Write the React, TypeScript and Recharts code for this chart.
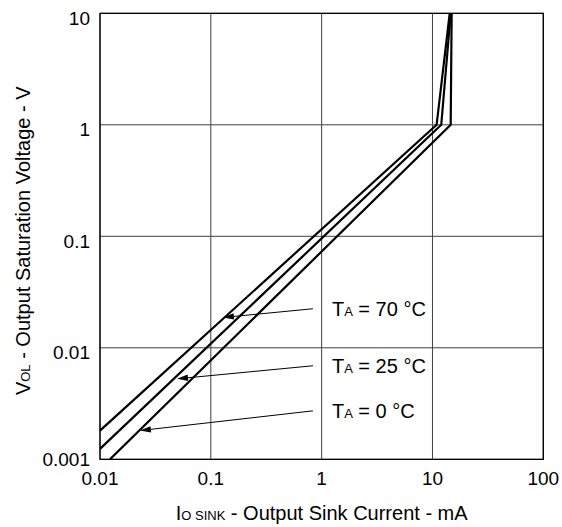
import { LineChart, Line, XAxis, YAxis, CartesianGrid, ReferenceLine, ReferenceArea } from 'recharts';

const FONT = '"Liberation Sans", Arial, sans-serif';

const xTicks = [0.01, 0.1, 1, 10, 100];
const yTicks = [0.001, 0.01, 0.1, 1, 10];

const t70 = [
  { x: 0.01, y: 0.00181 },
  { x: 10.9, y: 1 },
  { x: 14.3, y: 10 },
];
const t25 = [
  { x: 0.01, y: 0.00124 },
  { x: 12.0, y: 1 },
  { x: 14.6, y: 10 },
];
const t0 = [
  { x: 0.0123, y: 0.001 },
  { x: 14.6, y: 1 },
  { x: 14.9, y: 10 },
];

const labelTemps = ['70', '25', '0'];
const leaderStartX = 0.834;
const leaderStartY = [0.0224, 0.0069, 0.00272];
const leaderTipX = [0.1286, 0.0495, 0.0229];
const leaderTipY = [0.0187, 0.00527, 0.00181];

const fmt = (v: number) => String(v);

function YTick({ x, y, payload }: any) {
  const dy = payload.value === 0.001 ? 6.3 : 11.3;
  return (
    <text x={x} y={y} dy={dy} textAnchor="end" fontSize={19} fontFamily={FONT} fill="#000">
      {fmt(payload.value)}
    </text>
  );
}

function Leader(temp: string) {
  return ({ x1, y1, x2, y2 }: any) => {
    const ang = Math.atan2(y2 - y1, x2 - x1);
    const len = 11;
    const w = 3.2;
    const bx = x2 - len * Math.cos(ang);
    const by = y2 - len * Math.sin(ang);
    const px = -Math.sin(ang) * w;
    const py = Math.cos(ang) * w;
    return (
      <g>
        <line x1={x1} y1={y1} x2={bx} y2={by} stroke="#000" strokeWidth={1} />
        <polygon points={`${x2},${y2} ${bx + px},${by + py} ${bx - px},${by - py}`} fill="#000" />
        <text x={x1 + 19} y={y1 + 7} fontSize={20} fontFamily={FONT} fill="#000">
          <tspan>T</tspan>
          <tspan fontSize={13}>A</tspan>
          <tspan>{` = ${temp} °C`}</tspan>
        </text>
      </g>
    );
  };
}

function YTitle({ viewBox }: any) {
  const cx = viewBox.x + 0.5;
  const cy = viewBox.y + viewBox.height / 2 + 4.5;
  return (
    <text x={cx} y={cy} transform={`rotate(-90, ${cx}, ${cy})`} textAnchor="middle" fontSize={20} fontFamily={FONT} fill="#000">
      <tspan>V</tspan>
      <tspan fontSize={13}>OL</tspan>
      <tspan> - Output Saturation Voltage - V</tspan>
    </text>
  );
}

function XTitle({ viewBox }: any) {
  const cx = viewBox.x + viewBox.width / 2;
  return (
    <text x={cx} y={viewBox.y + 60.7} textAnchor="middle" fontSize={20} fontFamily={FONT} fill="#000">
      <tspan>I</tspan>
      <tspan fontSize={13}>O SINK</tspan>
      <tspan> - Output Sink Current - mA</tspan>
    </text>
  );
}

const series = [t70, t25, t0];

export default function App() {
  return (
    <div style={{ position: 'fixed', left: 0, top: 0, background: '#fff' }}>
      <LineChart width={562} height={527} margin={{ top: 13.3, right: 18.7, left: 30, bottom: 27.7 }}>
        <CartesianGrid stroke="#404040" strokeWidth={1} />
        <XAxis
          type="number"
          dataKey="x"
          scale="log"
          domain={[0.01, 100]}
          ticks={xTicks}
          allowDataOverflow
          height={40}
          tickLine={false}
          axisLine={false}
          tickSize={0}
          tickMargin={12.4}
          tickFormatter={fmt}
          tick={{ fontSize: 19, fontFamily: FONT, fill: '#000' }}
          label={{ content: XTitle }}
        />
        <YAxis
          type="number"
          dataKey="y"
          scale="log"
          domain={[0.001, 10]}
          ticks={yTicks}
          allowDataOverflow
          width={70}
          tickLine={false}
          axisLine={false}
          tickSize={0}
          tickMargin={10}
          tick={<YTick />}
          label={{ content: YTitle }}
        />
        <ReferenceArea x1={0.01} x2={100} y1={0.001} y2={10} fill="none" stroke="#000" strokeWidth={1.3} ifOverflow="visible" />
        {series.map((d, i) => (
          <Line
            key={i}
            data={d}
            dataKey="y"
            stroke="#000"
            strokeWidth={2.2}
            dot={false}
            activeDot={false}
            isAnimationActive={false}
          />
        ))}
        {labelTemps.map((t, i) => (
          <ReferenceLine
            key={t}
            segment={[
              { x: leaderStartX, y: leaderStartY[i] },
              { x: leaderTipX[i], y: leaderTipY[i] },
            ]}
            ifOverflow="visible"
            shape={Leader(t)}
          />
        ))}
      </LineChart>
    </div>
  );
}
